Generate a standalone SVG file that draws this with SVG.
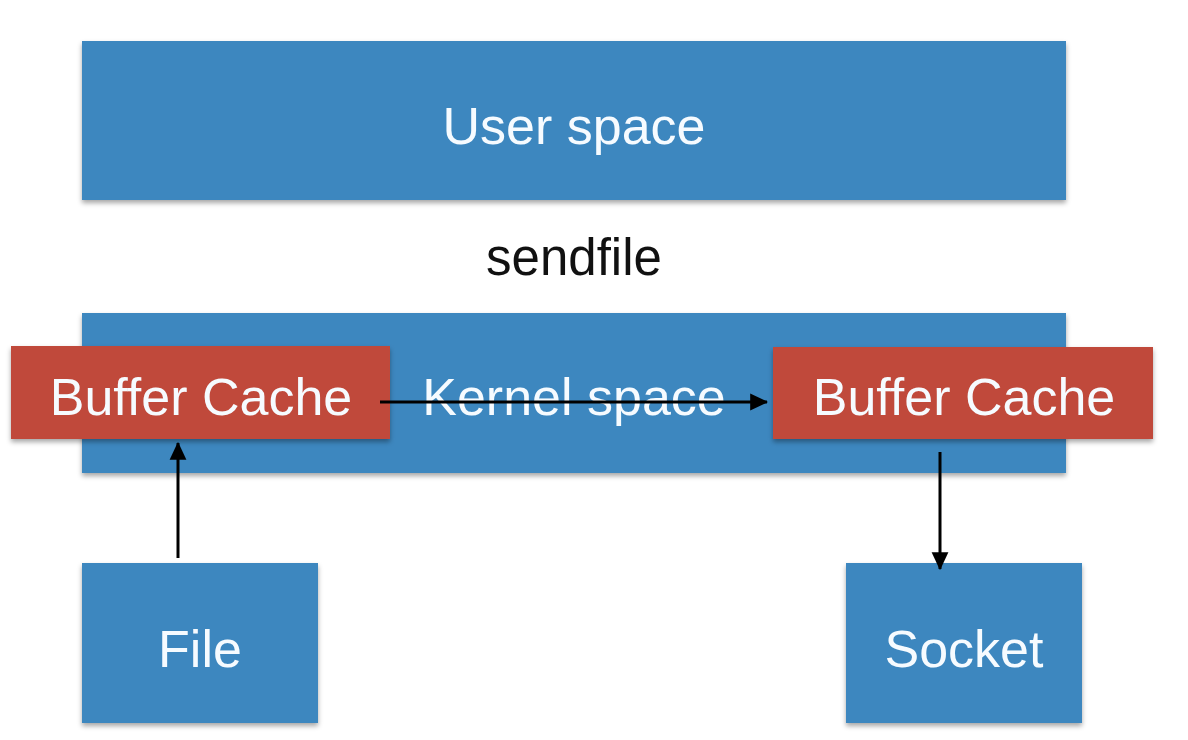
<svg xmlns="http://www.w3.org/2000/svg" width="1188" height="740" viewBox="0 0 1188 740">
<defs>
<filter id="sh" x="-5%" y="-10%" width="110%" height="130%">
<feDropShadow dx="0" dy="3" stdDeviation="2.5" flood-color="#000" flood-opacity="0.35"/>
</filter>
<marker id="ah" markerWidth="6" markerHeight="6" refX="5.6" refY="3" orient="auto" markerUnits="strokeWidth">
<path d="M0,0.2 L6,3 L0,5.8 Z" fill="#000"/>
</marker>
<style>
.blue{fill:#3d87bf;filter:url(#sh)}
.red{fill:#c04a3b;filter:url(#sh)}
.lbl{font-family:"Liberation Sans",Arial,sans-serif;font-size:52px;fill:#f6fbff;text-anchor:middle}
.dark{font-family:"Liberation Sans",Arial,sans-serif;font-size:51px;fill:#111;text-anchor:middle}
.conn{stroke:#000;stroke-width:3;fill:none;marker-end:url(#ah)}
</style>
</defs>
<rect width="1188" height="740" fill="#fff"/>
<g id="user-space">
<rect class="blue" x="82" y="41" width="984" height="159"/>
<text class="lbl" x="574" y="144">User space</text>
</g>
<text id="sendfile" class="dark" x="574" y="275">sendfile</text>
<g id="kernel-space">
<rect class="blue" x="82" y="313" width="984" height="160"/>
<text class="lbl" x="574" y="415">Kernel space</text>
</g>
<g id="buffer-cache-left">
<rect class="red" x="11" y="346" width="379" height="93"/>
<text class="lbl" x="201" y="415">Buffer Cache</text>
</g>
<g id="buffer-cache-right">
<rect class="red" x="773" y="347" width="380" height="92"/>
<text class="lbl" x="964" y="415">Buffer Cache</text>
</g>
<g id="file">
<rect class="blue" x="82" y="563" width="236" height="160"/>
<text class="lbl" x="200" y="667">File</text>
</g>
<g id="socket">
<rect class="blue" x="846" y="563" width="236" height="160"/>
<text class="lbl" x="964" y="667">Socket</text>
</g>
<g id="connectors">
<line class="conn" x1="380" y1="402" x2="767" y2="402"/>
<line class="conn" x1="178" y1="558" x2="178" y2="443"/>
<line class="conn" x1="940" y1="452" x2="940" y2="569"/>
</g>
</svg>
